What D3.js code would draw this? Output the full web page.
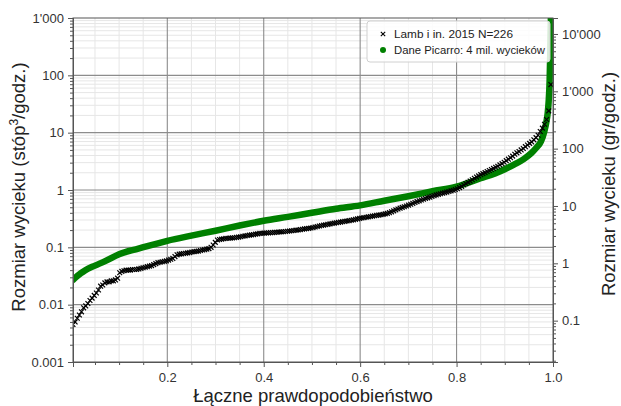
<!DOCTYPE html>
<html>
<head>
<meta charset="utf-8">
<script src="https://cdn.jsdelivr.net/npm/d3@7"></script>
<style>
  body { margin: 0; background: #fff; }
  text { font-family: "Liberation Sans", Arial, sans-serif; }
</style>
</head>
<body>
<div id="root"></div>
<script>
var width = 621;
var height = 406;
var padding = { left: 73, right: 68, top: 18, bottom: 44 };

// Lamb et al. 2015, sorted leak sizes (scfh), N = 226
var lambValues = [
  0.0045, 0.0050, 0.0058, 0.0066, 0.0075, 0.0088, 0.0095, 0.0105, 0.0118, 0.0130,
  0.0145, 0.016, 0.018, 0.021, 0.022, 0.024, 0.025, 0.025, 0.026, 0.026,
  0.027, 0.029, 0.036, 0.038, 0.039, 0.040, 0.040, 0.040, 0.041, 0.041,
  0.041, 0.042, 0.043, 0.044, 0.045, 0.046, 0.047, 0.048, 0.050, 0.052,
  0.054, 0.055, 0.056, 0.057, 0.058, 0.060, 0.062, 0.064, 0.069, 0.074,
  0.076, 0.077, 0.078, 0.079, 0.080, 0.081, 0.083, 0.084, 0.085, 0.086,
  0.088, 0.090, 0.091, 0.093, 0.095, 0.100, 0.110, 0.122, 0.134, 0.137,
  0.139, 0.141, 0.143, 0.144, 0.145, 0.146, 0.147, 0.149, 0.151, 0.153,
  0.156, 0.158, 0.161, 0.163, 0.165, 0.167, 0.170, 0.172, 0.175, 0.176,
  0.177, 0.178, 0.179, 0.180, 0.181, 0.182, 0.183, 0.185, 0.186, 0.187,
  0.189, 0.191, 0.193, 0.195, 0.197, 0.199, 0.201, 0.204, 0.207, 0.210,
  0.212, 0.214, 0.217, 0.221, 0.226, 0.231, 0.236, 0.240, 0.244, 0.248,
  0.252, 0.256, 0.260, 0.264, 0.268, 0.272, 0.276, 0.280, 0.284, 0.288,
  0.292, 0.297, 0.302, 0.308, 0.314, 0.320, 0.325, 0.330, 0.335, 0.340,
  0.345, 0.350, 0.355, 0.360, 0.365, 0.370, 0.376, 0.383, 0.390, 0.402,
  0.416, 0.432, 0.450, 0.466, 0.482, 0.497, 0.510, 0.527, 0.545, 0.565,
  0.585, 0.605, 0.627, 0.648, 0.670, 0.690, 0.710, 0.730, 0.750, 0.775,
  0.800, 0.820, 0.840, 0.860, 0.880, 0.900, 0.920, 0.940, 0.965, 0.990,
  1.02, 1.05, 1.10, 1.16, 1.22, 1.29, 1.36, 1.43, 1.51, 1.60,
  1.68, 1.76, 1.85, 1.93, 2.01, 2.10, 2.19, 2.28, 2.38, 2.49,
  2.60, 2.74, 2.88, 3.05, 3.25, 3.45, 3.65, 3.90, 4.20, 4.45,
  4.70, 5.00, 5.30, 5.70, 6.10, 6.50, 6.90, 7.50, 8.20, 9.00,
  10.5, 12.0, 14.0, 17.0, 24.0, 69.0
];

// Picarro distribution (4 million leaks)
var picarroProb = [0.0044, 0.01, 0.02, 0.03, 0.05, 0.07, 0.1, 0.14, 0.2, 0.25,
  0.3, 0.35, 0.4, 0.45, 0.5, 0.55, 0.6, 0.65, 0.7, 0.75,
  0.8, 0.85, 0.88, 0.9, 0.92, 0.94, 0.955, 0.965, 0.975, 0.982,
  0.986, 0.989, 0.991, 0.993, 0.9945, 0.996, 0.998, 0.9995];
var picarroValues = [0.027, 0.030, 0.035, 0.040, 0.048, 0.057, 0.076, 0.095, 0.13, 0.16,
  0.195, 0.24, 0.29, 0.34, 0.40, 0.47, 0.54, 0.65, 0.78, 0.95,
  1.15, 1.6, 1.95, 2.3, 2.8, 3.5, 4.4, 5.4, 7.0, 10.5,
  15, 22, 35, 80, 300, 1500, 5000, 20000];

var xTicks = [0.2, 0.4, 0.6, 0.8, 1.0];
var xTickLabels = ['0.2', '0.4', '0.6', '0.8', '1.0'];
var leftTicks = [0.001, 0.01, 0.1, 1, 10, 100, 1000];
var leftTickLabels = ['0.001', '0.01', '0.1', '1', '10', '100', "1'000"];
var rightTicks = [0.1, 1, 10, 100, 1000, 10000];
var rightTickLabels = ['0.1', '1', '10', '100', "1'000", "10'000"];
var gramsPerScfh = 19;

var plotW = width - padding.left - padding.right;
var plotH = height - padding.top - padding.bottom;

var svg = d3.select('#root')
    .append('svg')
    .attr('width', width).attr('height', height);

var xScale = d3.scaleLinear()
    .domain([0.0044, 1.0])
    .range([0, plotW]);
var yScale = d3.scaleLog()
    .domain([0.001, 1000])
    .range([plotH, 0]);
var yRight = d3.scaleLog()
    .domain([0.001 * gramsPerScfh, 1000 * gramsPerScfh])
    .range([plotH, 0]);

var g = svg.append('g')
    .attr('transform', 'translate(' + padding.left + ',' + padding.top + ')');

// minor values
function minorLog(lo, hi) {
  var out = [];
  for (var e = Math.floor(Math.log10(lo)); e <= Math.ceil(Math.log10(hi)); e++) {
    for (var k = 2; k <= 9; k++) {
      var v = k * Math.pow(10, e);
      if (v >= lo && v <= hi) out.push(v);
    }
  }
  return out;
}
var xMinor = d3.range(0.05, 1.0, 0.05).filter(function (d) {
  return Math.abs(d * 5 - Math.round(d * 5)) > 1e-6;
});
var yMinor = minorLog(0.001, 1000);
var yRightMinor = minorLog(yRight.domain()[0], yRight.domain()[1]);

// grid
g.append('g').selectAll('line').data(xMinor).enter().append('line')
    .attr('x1', function (d) { return xScale(d); }).attr('x2', function (d) { return xScale(d); })
    .attr('y1', 0).attr('y2', plotH)
    .attr('stroke', '#e6e6e6').attr('stroke-width', 1);
g.append('g').selectAll('line').data(yMinor).enter().append('line')
    .attr('x1', 0).attr('x2', plotW)
    .attr('y1', function (d) { return yScale(d); }).attr('y2', function (d) { return yScale(d); })
    .attr('stroke', '#e6e6e6').attr('stroke-width', 1);
g.append('g').selectAll('line').data(xTicks.slice(0, 4)).enter().append('line')
    .attr('x1', function (d) { return xScale(d); }).attr('x2', function (d) { return xScale(d); })
    .attr('y1', 0).attr('y2', plotH)
    .attr('stroke', '#8c8c8c').attr('stroke-width', 1.1);
g.append('g').selectAll('line').data(leftTicks.slice(1, 6)).enter().append('line')
    .attr('x1', 0).attr('x2', plotW)
    .attr('y1', function (d) { return yScale(d); }).attr('y2', function (d) { return yScale(d); })
    .attr('stroke', '#8c8c8c').attr('stroke-width', 1.1);

// clip
svg.append('defs').append('clipPath').attr('id', 'clip')
    .append('rect').attr('width', plotW).attr('height', plotH);

var plot = g.append('g').attr('clip-path', 'url(#clip)');

// Picarro thick band
var picarroPts = picarroProb.map(function (p, i) { return [p, picarroValues[i]]; });
var line = d3.line()
    .x(function (d) { return xScale(d[0]); })
    .y(function (d) { return yScale(d[1]); })
    .curve(d3.curveMonotoneX);
plot.append('path')
    .datum(picarroPts)
    .attr('d', line)
    .attr('fill', 'none')
    .attr('stroke', '#008000')
    .attr('stroke-width', 6.5)
    .attr('stroke-linecap', 'round')
    .attr('stroke-linejoin', 'round');

// Lamb markers
var N = lambValues.length;
var ms = 2.4;
plot.selectAll('.lamb')
    .data(lambValues).enter()
    .append('path')
    .attr('class', 'lamb')
    .attr('transform', function (d, i) {
      return 'translate(' + xScale((i + 1) / (N + 1)) + ',' + yScale(d) + ')';
    })
    .attr('d', 'M' + (-ms) + ',' + (-ms) + 'L' + ms + ',' + ms + 'M' + (-ms) + ',' + ms + 'L' + ms + ',' + (-ms))
    .attr('stroke', '#000')
    .attr('stroke-width', 1.2)
    .attr('fill', 'none');

// frame
g.append('rect').attr('width', plotW).attr('height', plotH)
    .attr('fill', 'none').attr('stroke', '#555').attr('stroke-width', 1);

// axes
function styleAxis(sel) {
  sel.select('.domain').attr('stroke', '#555');
  sel.selectAll('.tick line').attr('stroke', '#555');
  sel.selectAll('.tick text').attr('fill', '#333').style('font-size', '13px')
      .style('font-family', '"Liberation Sans", Arial, sans-serif');
}

var xAxis = d3.axisBottom(xScale).tickValues(xTicks)
    .tickFormat(function (d, i) { return xTickLabels[i]; }).tickSize(5).tickPadding(6);
g.append('g').attr('transform', 'translate(0,' + plotH + ')').call(xAxis).call(styleAxis);
g.append('g').attr('transform', 'translate(0,' + plotH + ')')
    .call(d3.axisBottom(xScale).tickValues(xMinor).tickFormat('').tickSize(3)).call(styleAxis);

var yAxis = d3.axisLeft(yScale).tickValues(leftTicks)
    .tickFormat(function (d, i) { return leftTickLabels[i]; }).tickSize(5).tickPadding(4);
g.append('g').call(yAxis).call(styleAxis);
g.append('g').call(d3.axisLeft(yScale).tickValues(yMinor).tickFormat('').tickSize(3)).call(styleAxis);

var yAxisR = d3.axisRight(yRight).tickValues(rightTicks)
    .tickFormat(function (d, i) { return rightTickLabels[i]; }).tickSize(5).tickPadding(4);
g.append('g').attr('transform', 'translate(' + plotW + ',0)').call(yAxisR).call(styleAxis);
g.append('g').attr('transform', 'translate(' + plotW + ',0)')
    .call(d3.axisRight(yRight).tickValues(yRightMinor).tickFormat('').tickSize(3)).call(styleAxis);

// axis titles
var yl = svg.append('text')
    .attr('transform', 'translate(25,' + (padding.top + plotH / 2 - 3) + ') rotate(-90)')
    .attr('text-anchor', 'middle')
    .attr('fill', '#222')
    .style('font-size', '18.5px');
yl.append('tspan').text('Rozmiar wycieku (stóp');
yl.append('tspan').attr('dy', -7).style('font-size', '12px').text('3');
yl.append('tspan').attr('dy', 7).text('/godz.)');

svg.append('text')
    .attr('transform', 'translate(615,' + (padding.top + plotH / 2 - 6) + ') rotate(-90)')
    .attr('text-anchor', 'middle')
    .attr('fill', '#222')
    .style('font-size', '18.5px')
    .text('Rozmiar wycieku (gr/godz.)');

svg.append('text')
    .attr('x', padding.left + plotW / 2).attr('y', 402)
    .attr('text-anchor', 'middle')
    .attr('fill', '#222')
    .style('font-size', '18.5px')
    .text('Łączne prawdopodobieństwo');

// legend
var lg = svg.append('g').attr('transform', 'translate(367,21)');
lg.append('rect').attr('width', 183).attr('height', 41).attr('rx', 3)
    .attr('fill', 'rgba(255,255,255,0.85)').attr('stroke', '#d0d0d0');
lg.append('path')
    .attr('transform', 'translate(16,13)')
    .attr('d', 'M-2.2,-2.2L2.2,2.2M-2.2,2.2L2.2,-2.2')
    .attr('stroke', '#000').attr('stroke-width', 1.1);
lg.append('circle').attr('cx', 16).attr('cy', 29).attr('r', 3).attr('fill', '#008000');
lg.append('text').attr('x', 27).attr('y', 17).attr('fill', '#222')
    .attr('textLength', 119).attr('lengthAdjust', 'spacingAndGlyphs')
    .style('font-size', '11.5px').text('Lamb i in. 2015 N=226');
lg.append('text').attr('x', 27).attr('y', 33).attr('fill', '#222')
    .attr('textLength', 151).attr('lengthAdjust', 'spacingAndGlyphs')
    .style('font-size', '11.5px').text('Dane Picarro: 4 mil. wycieków');
</script>
</body>
</html>
